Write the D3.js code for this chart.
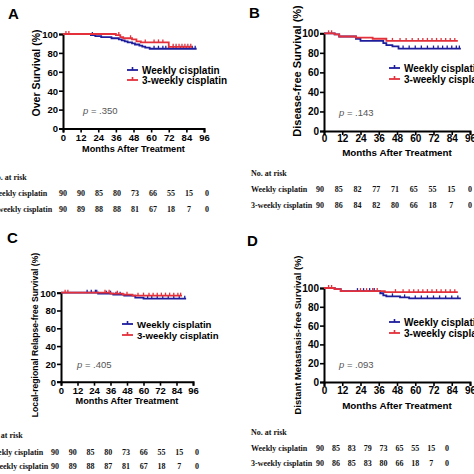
<!DOCTYPE html>
<html><head><meta charset="utf-8">
<script src="https://cdn.jsdelivr.net/npm/d3@7"></script>
<style>body{margin:0;background:#fff}svg{display:block}</style>
</head><body><svg id="c" width="474" height="474"></svg>
<script>
// ---------- DATA ----------
const monthTicks = [0,12,24,36,48,60,72,84,96];
const survTicks = [0,20,40,60,80,100];
const seriesNames = ["Weekly cisplatin","3-weekly cisplatin"];
const panelLetters = ["A","B","C","D"];
const yTitles = ["Over Survival (%)","Disease-free Survival (%)","Local-regional Relapse-free Survival (%)","Distant Metastasis-free Survival (%)"];
const xTitle = "Months After Treatment";
const pValues = [".350",".143",".405",".093"];
const riskHeader = "No. at risk";

// Panel A – overall survival
const aWeeklyTimes = [0,19,22,26,33,38,40,42,44,47,49,52,54,56,59];
const aWeeklySurv  = [100,98.9,97.8,96.7,95.5,94.4,93.3,92.2,91.1,90.0,88.9,87.8,86.7,85.6,84.4];
const aWeeklyEnd = 91;
const aWeeklyCensor = [20,62,65,68,70,72,75,77,80,82,84,86,88,90];
const a3wTimes = [0,36,39,41,47,50,53,72];
const a3wSurv  = [100,98.9,96.7,95.5,94.4,92.2,91.1,86.4];
const a3wEnd = 88;
const a3wCensor = [2,4,38,46,56,62,65,68,75,77,79,81,83,85,87];

// Panel B – disease-free survival
const bWeeklyTimes = [0,7,10,21,24,39,41,45,49];
const bWeeklySurv  = [100,98.9,96.7,94.4,92.2,90.0,87.8,86.7,84.4];
const bWeeklyEnd = 90;
const bWeeklyCensor = [52,56,60,64,68,72,75,78,81,84,87,89];
const b3wTimes = [0,7,10,21,32,41];
const b3wSurv  = [100,98.9,96.7,95.5,94.4,92.2];
const b3wEnd = 88;
const b3wCensor = [3,5,45,50,54,58,62,65,68,71,74,77,80,83,86];

// Panel C – local-regional relapse-free survival
const cWeeklyTimes = [0,27,38,46,54,60];
const cWeeklySurv  = [100,98.9,97.8,96.7,94.4,93.3];
const cWeeklyEnd = 91;
const cWeeklyCensor = [19,22,25,26,33,36,40,43,63,66,70,74,78,82,86,90];
const c3wTimes = [0,36,45,52];
const c3wSurv  = [100,98.9,97.8,96.7];
const c3wEnd = 88;
const c3wCensor = [3,5,32,35,41,48,56,60,64,67,70,73,76,79,82,85,87];

// Panel D – distant metastasis-free survival
const dWeeklyTimes = [0,7,11,37,39,41,50,56];
const dWeeklySurv  = [100,98.9,96.7,94.4,92.2,91.1,90.0,88.9];
const dWeeklyEnd = 90;
const dWeeklyCensor = [22,26,30,33,45,53,60,64,68,72,76,80,84,88];
const d3wTimes = [0,7,11,40];
const d3wSurv  = [100,98.9,96.7,95.6];
const d3wEnd = 88;
const d3wCensor = [3,5,24,28,32,35,47,52,56,59,62,65,68,71,74,77,80,83,86];

// Numbers at risk
const aRiskWeekly = [90,90,85,80,73,66,55,15,0];
const aRisk3w     = [90,89,88,88,81,67,18,7,0];
const bRiskWeekly = [90,85,82,77,71,65,55,15,0];
const bRisk3w     = [90,86,84,82,80,66,18,7,0];
const cRiskWeekly = [90,90,85,80,73,66,55,15,0];
const cRisk3w     = [90,89,88,87,81,67,18,7,0];
const dRiskWeekly = [90,85,83,79,73,65,55,15,0];
const dRisk3w     = [90,86,85,83,80,66,18,7,0];

// ---------- ASSEMBLY ----------
const colors = ["#1e1e9c","#e3303a"];
const panelsData = [
  {series:[[aWeeklyTimes,aWeeklySurv,aWeeklyEnd,aWeeklyCensor],[a3wTimes,a3wSurv,a3wEnd,a3wCensor]], risk:[aRiskWeekly,aRisk3w]},
  {series:[[bWeeklyTimes,bWeeklySurv,bWeeklyEnd,bWeeklyCensor],[b3wTimes,b3wSurv,b3wEnd,b3wCensor]], risk:[bRiskWeekly,bRisk3w]},
  {series:[[cWeeklyTimes,cWeeklySurv,cWeeklyEnd,cWeeklyCensor],[c3wTimes,c3wSurv,c3wEnd,c3wCensor]], risk:[cRiskWeekly,cRisk3w]},
  {series:[[dWeeklyTimes,dWeeklySurv,dWeeklyEnd,dWeeklyCensor],[d3wTimes,d3wSurv,d3wEnd,d3wCensor]], risk:[dRiskWeekly,dRisk3w]}
];

// layout (pixel geometry of each panel)
const layouts = [
  {lx:8, ly:13, x0:63, x1:204, yt:34, yb:128.5, ytx:36, yty:73, yts:10.5, tks:9.5, tly:137.5, xty:148.5, xts:9.2,
   legX:127, legY:[70,80], legS:10, px:83, py:110, rlx:-9, ry:[177,193,209], rx0:63, rx1:207},
  {lx:249, ly:12, x0:324, x1:470, yt:33.3, yb:131, ytx:297, yty:71, yts:11, tks:10, tly:138.5, xty:152, xts:9.8,
   legX:389, legY:[68,79], legS:10, px:339, py:112, rlx:251, ry:[173,189,205], rx0:320, rx1:470},
  {lx:7, ly:237, x0:61, x1:193, yt:292.7, yb:381.7, ytx:35, yty:335, yts:8.6, tks:9.5, tly:390.5, xty:401, xts:9.2,
   legX:122, legY:[324,335], legS:9.6, px:77, py:364, rlx:-13, ry:[435,452,466], rx0:55, rx1:197},
  {lx:247, ly:240, x0:324, x1:470, yt:288, yb:382, ytx:297, yty:335, yts:9.4, tks:10, tly:390.5, xty:405, xts:9.8,
   legX:389, legY:[322,333], legS:10, px:339, py:364, rlx:251, ry:[432,448,463], rx0:320, rx1:447}
];

const svg = d3.select("#c");
const sans = "Liberation Sans, Arial, sans-serif";
const serif = "Liberation Serif, Times New Roman, serif";

panelsData.forEach((pd, i) => {
  const L = layouts[i];
  const g = svg.append("g");
  const x = d3.scaleLinear().domain([0,96]).range([L.x0, L.x1]);
  const y = d3.scaleLinear().domain([0,100]).range([L.yb, L.yt]);

  // panel letter
  g.append("text").attr("x", L.lx).attr("y", L.ly).attr("dominant-baseline","central")
    .attr("font-family", sans).attr("font-weight","bold").attr("font-size",15).text(panelLetters[i]);

  // axes
  const xAxis = d3.axisBottom(x).tickValues(monthTicks).tickSize(4).tickPadding(2);
  const yAxis = d3.axisLeft(y).tickValues(survTicks).tickSize(4).tickPadding(1);
  const gx = g.append("g").attr("transform",`translate(0,${L.yb})`).call(xAxis);
  const gy = g.append("g").attr("transform",`translate(${L.x0},0)`).call(yAxis);
  [gx, gy].forEach(a => {
    a.select(".domain").attr("stroke","#000").attr("stroke-width",2);
    a.selectAll(".tick line").attr("stroke","#000").attr("stroke-width",1.6);
    a.selectAll("text").attr("font-family", sans).attr("font-weight","bold")
      .attr("font-size", L.tks).attr("fill","#000");
  });
  gx.selectAll("text").attr("dy", null)
    .attr("y", L.tly - L.yb).attr("dominant-baseline","central");
  gy.selectAll("text").attr("dy","0.35em");

  // axis titles
  g.append("text").attr("transform",`translate(${L.ytx},${L.yty}) rotate(-90)`)
    .attr("text-anchor","middle").attr("dominant-baseline","central")
    .attr("font-family", sans).attr("font-weight","bold").attr("font-size", L.yts).text(yTitles[i]);
  g.append("text").attr("x", (L.x0+L.x1)/2).attr("y", L.xty)
    .attr("text-anchor","middle").attr("dominant-baseline","central")
    .attr("font-family", sans).attr("font-weight","bold").attr("font-size", L.xts).text(xTitle);

  // curves
  const line = d3.line().x(d => x(d[0])).y(d => y(d[1])).curve(d3.curveStepAfter);
  pd.series.forEach((s, k) => {
    const [times, surv, end, cens] = s;
    const pts = times.map((t, j) => [t, surv[j]]);
    pts.push([end, surv[surv.length-1]]);
    g.append("path").datum(pts).attr("d", line).attr("fill","none")
      .attr("stroke", colors[k]).attr("stroke-width", 1.8);
    const survAt = t => { let v = surv[0]; times.forEach((tt, j) => { if (tt <= t) v = surv[j]; }); return v; };
    g.selectAll(null).data(cens).enter().append("line")
      .attr("x1", d => x(d)).attr("x2", d => x(d))
      .attr("y1", d => y(survAt(d))).attr("y2", d => y(survAt(d)) - 3)
      .attr("stroke", colors[k]).attr("stroke-width", 1.3);
  });

  // legend
  seriesNames.forEach((name, k) => {
    const ly = L.legY[k];
    g.append("line").attr("x1", L.legX).attr("x2", L.legX+11).attr("y1", ly).attr("y2", ly)
      .attr("stroke", colors[k]).attr("stroke-width", 1.8);
    g.append("line").attr("x1", L.legX+5.5).attr("x2", L.legX+5.5).attr("y1", ly).attr("y2", ly-3)
      .attr("stroke", colors[k]).attr("stroke-width", 1.6);
    g.append("text").attr("x", L.legX+15).attr("y", ly).attr("dominant-baseline","central")
      .attr("font-family", sans).attr("font-weight","bold").attr("font-size", L.legS).text(name);
  });

  // p value
  const pt = g.append("text").attr("x", L.px).attr("y", L.py).attr("dominant-baseline","central")
    .attr("font-family", sans).attr("font-size", 9.5).attr("fill","#555");
  pt.append("tspan").attr("font-style","italic").text("p");
  pt.append("tspan").text(" = " + pValues[i]);

  // risk table
  const rx = d3.scaleLinear().domain([0,96]).range([L.rx0, L.rx1]);
  const rtext = sel => sel.attr("dominant-baseline","central").attr("font-family", serif)
    .attr("font-weight","bold").attr("font-size", 8).attr("fill","#111");
  g.append("text").attr("x", L.rlx).attr("y", L.ry[0]).call(rtext).text(riskHeader);
  pd.risk.forEach((row, k) => {
    g.append("text").attr("x", L.rlx).attr("y", L.ry[k+1]).call(rtext).text(seriesNames[k]);
    g.selectAll(null).data(row).enter().append("text")
      .attr("x", (d, j) => rx(monthTicks[j])).attr("y", L.ry[k+1])
      .attr("text-anchor","middle").call(rtext).text(d => d);
  });
});
</script></body></html>
